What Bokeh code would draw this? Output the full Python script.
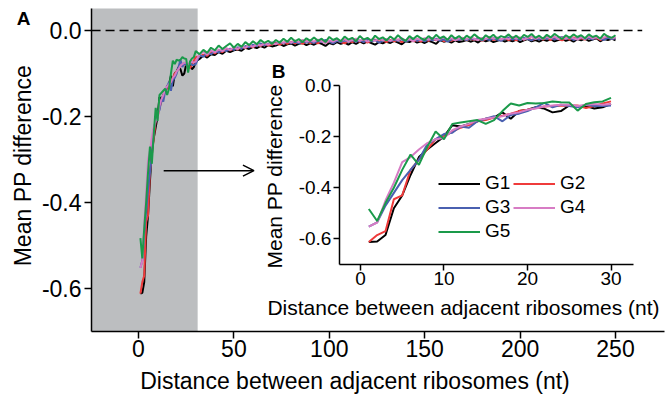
from math import pi
from bokeh.plotting import figure
from bokeh.models import (Range1d, LinearAxis, FixedTicker, NumeralTickFormatter,
                          BoxAnnotation, Arrow, OpenHead, Label, Legend, LegendItem)
from bokeh.embed import file_html
from bokeh.resources import INLINE

FONT = "Liberation Sans"
W, H = 666, 394

# ---------------- data ----------------
series_names = ["G1", "G2", "G3", "G4", "G5"]
series_colors = ["#000000", "#ef3b3b", "#4a60b0", "#d77cc4", "#1a9a4a"]

# distances 1..30 nt (shown in inset B and in A)
head_x = list(range(1, 31))
g1_head = [-0.612, -0.610, -0.585, -0.480, -0.430, -0.350, -0.280, -0.250, -0.225, -0.200,
           -0.155, -0.160, -0.150, -0.140, -0.130, -0.125, -0.105, -0.130, -0.100, -0.095,
           -0.085, -0.090, -0.105, -0.100, -0.078, -0.080, -0.080, -0.090, -0.085, -0.072]
g2_head = [-0.612, -0.585, -0.570, -0.445, -0.430, -0.330, -0.290, -0.250, -0.210, -0.200,
           -0.180, -0.165, -0.155, -0.140, -0.135, -0.125, -0.118, -0.110, -0.100, -0.095,
           -0.088, -0.082, -0.080, -0.078, -0.080, -0.078, -0.088, -0.080, -0.070, -0.062]
g3_head = [-0.552, -0.535, -0.470, -0.420, -0.370, -0.330, -0.290, -0.230, -0.210, -0.190,
           -0.185, -0.160, -0.165, -0.140, -0.130, -0.120, -0.140, -0.115, -0.110, -0.100,
           -0.085, -0.068, -0.085, -0.075, -0.080, -0.085, -0.075, -0.080, -0.080, -0.078]
g4_head = [-0.552, -0.536, -0.450, -0.380, -0.300, -0.280, -0.250, -0.225, -0.210, -0.205,
           -0.175, -0.160, -0.150, -0.135, -0.130, -0.125, -0.120, -0.110, -0.105, -0.095,
           -0.090, -0.082, -0.078, -0.075, -0.075, -0.080, -0.075, -0.072, -0.075, -0.072]
g5_head = [-0.483, -0.530, -0.460, -0.400, -0.330, -0.270, -0.310, -0.240, -0.180, -0.210,
           -0.150, -0.145, -0.140, -0.135, -0.150, -0.135, -0.100, -0.070, -0.078, -0.068,
           -0.070, -0.068, -0.062, -0.065, -0.066, -0.098, -0.072, -0.065, -0.062, -0.048]

# distances 32..250 nt (every 2 nt) shown in A only
tail_x = list(range(32, 251, 2))
g1_tail = [-0.066, -0.058, -0.063, -0.055, -0.057, -0.050, -0.054, -0.047, -0.050, -0.046,
           -0.044, -0.047, -0.040, -0.043, -0.038, -0.041, -0.036, -0.040, -0.034, -0.037,
           -0.035, -0.031, -0.036, -0.032, -0.030, -0.035, -0.031, -0.029, -0.034, -0.030,
           -0.033, -0.028, -0.031, -0.036, -0.029, -0.032, -0.027, -0.031, -0.028, -0.033,
           -0.027, -0.031, -0.026, -0.030, -0.025, -0.029, -0.033, -0.027, -0.030, -0.026,
           -0.029, -0.024, -0.028, -0.032, -0.025, -0.027, -0.023, -0.028, -0.025, -0.029,
           -0.024, -0.027, -0.031, -0.022, -0.026, -0.024, -0.028, -0.023, -0.027, -0.025,
           -0.022, -0.026, -0.023, -0.028, -0.021, -0.025, -0.022, -0.027, -0.024, -0.021,
           -0.026, -0.022, -0.025, -0.021, -0.027, -0.023, -0.020, -0.025, -0.022, -0.026,
           -0.021, -0.024, -0.020, -0.025, -0.022, -0.019, -0.024, -0.021, -0.026, -0.020,
           -0.023, -0.019, -0.024, -0.021, -0.018, -0.025, -0.020, -0.022, -0.019, -0.023]
g2_tail = [-0.060, -0.056, -0.059, -0.050, -0.053, -0.047, -0.050, -0.044, -0.046, -0.042,
           -0.044, -0.038, -0.041, -0.035, -0.039, -0.033, -0.036, -0.031, -0.035, -0.032,
           -0.029, -0.033, -0.028, -0.031, -0.026, -0.030, -0.027, -0.031, -0.025, -0.029,
           -0.026, -0.030, -0.024, -0.028, -0.025, -0.029, -0.023, -0.027, -0.030, -0.024,
           -0.027, -0.023, -0.026, -0.022, -0.028, -0.024, -0.021, -0.026, -0.023, -0.027,
           -0.022, -0.025, -0.021, -0.027, -0.023, -0.020, -0.025, -0.022, -0.026, -0.021,
           -0.024, -0.020, -0.023, -0.019, -0.025, -0.021, -0.024, -0.020, -0.022, -0.019,
           -0.023, -0.019, -0.022, -0.018, -0.024, -0.020, -0.017, -0.022, -0.019, -0.023,
           -0.018, -0.022, -0.019, -0.023, -0.017, -0.021, -0.018, -0.022, -0.020, -0.017,
           -0.021, -0.018, -0.022, -0.017, -0.020, -0.023, -0.018, -0.021, -0.016, -0.020,
           -0.018, -0.021, -0.016, -0.020, -0.017, -0.022, -0.018, -0.015, -0.020, -0.017]
g3_tail = [-0.057, -0.061, -0.052, -0.055, -0.048, -0.051, -0.045, -0.048, -0.042, -0.045,
           -0.039, -0.042, -0.036, -0.039, -0.033, -0.036, -0.030, -0.034, -0.031, -0.028,
           -0.031, -0.027, -0.030, -0.025, -0.029, -0.026, -0.030, -0.024, -0.028, -0.025,
           -0.029, -0.024, -0.027, -0.022, -0.026, -0.030, -0.024, -0.027, -0.023, -0.026,
           -0.022, -0.026, -0.023, -0.027, -0.021, -0.025, -0.022, -0.028, -0.024, -0.021,
           -0.025, -0.021, -0.024, -0.020, -0.026, -0.022, -0.019, -0.024, -0.021, -0.025,
           -0.020, -0.023, -0.019, -0.024, -0.020, -0.026, -0.021, -0.018, -0.022, -0.019,
           -0.022, -0.018, -0.021, -0.017, -0.023, -0.019, -0.022, -0.018, -0.021, -0.024,
           -0.019, -0.016, -0.021, -0.018, -0.022, -0.017, -0.020, -0.023, -0.018, -0.021,
           -0.017, -0.020, -0.016, -0.021, -0.018, -0.015, -0.020, -0.017, -0.022, -0.018,
           -0.016, -0.020, -0.017, -0.021, -0.015, -0.019, -0.022, -0.017, -0.020, -0.018]
g4_tail = [-0.055, -0.050, -0.056, -0.046, -0.051, -0.044, -0.048, -0.041, -0.045, -0.039,
           -0.043, -0.037, -0.040, -0.034, -0.038, -0.032, -0.035, -0.030, -0.033, -0.029,
           -0.032, -0.026, -0.029, -0.024, -0.028, -0.023, -0.027, -0.022, -0.026, -0.023,
           -0.026, -0.021, -0.025, -0.029, -0.023, -0.026, -0.021, -0.024, -0.020, -0.025,
           -0.022, -0.019, -0.024, -0.020, -0.026, -0.021, -0.024, -0.019, -0.023, -0.020,
           -0.024, -0.019, -0.022, -0.018, -0.023, -0.020, -0.025, -0.019, -0.022, -0.018,
           -0.021, -0.017, -0.022, -0.019, -0.016, -0.021, -0.018, -0.023, -0.019, -0.017,
           -0.020, -0.016, -0.019, -0.022, -0.017, -0.020, -0.015, -0.019, -0.016, -0.021,
           -0.017, -0.020, -0.015, -0.019, -0.016, -0.021, -0.017, -0.014, -0.019, -0.016,
           -0.019, -0.015, -0.018, -0.014, -0.020, -0.016, -0.019, -0.015, -0.018, -0.021,
           -0.016, -0.019, -0.014, -0.018, -0.015, -0.020, -0.016, -0.013, -0.018, -0.016]
g5_tail = [-0.055, -0.045, -0.052, -0.040, -0.046, -0.035, -0.043, -0.036, -0.030, -0.040,
           -0.031, -0.038, -0.027, -0.034, -0.025, -0.032, -0.022, -0.029, -0.024, -0.031,
           -0.022, -0.028, -0.019, -0.026, -0.017, -0.025, -0.020, -0.027, -0.018, -0.024,
           -0.016, -0.024, -0.019, -0.027, -0.015, -0.022, -0.018, -0.025, -0.014, -0.021,
           -0.017, -0.025, -0.013, -0.021, -0.017, -0.024, -0.012, -0.020, -0.016, -0.023,
           -0.014, -0.021, -0.011, -0.019, -0.024, -0.013, -0.020, -0.012, -0.018, -0.022,
           -0.013, -0.020, -0.010, -0.018, -0.014, -0.022, -0.011, -0.019, -0.013, -0.021,
           -0.012, -0.018, -0.009, -0.016, -0.021, -0.011, -0.017, -0.010, -0.019, -0.013,
           -0.016, -0.009, -0.018, -0.012, -0.020, -0.010, -0.015, -0.008, -0.017, -0.012,
           -0.019, -0.010, -0.016, -0.008, -0.014, -0.020, -0.011, -0.017, -0.009, -0.015,
           -0.011, -0.018, -0.009, -0.015, -0.012, -0.019, -0.008, -0.014, -0.017, -0.011]

heads = [g1_head, g2_head, g3_head, g4_head, g5_head]
tails = [g1_tail, g2_tail, g3_tail, g4_tail, g5_tail]

main_xticks = [0, 50, 100, 150, 200, 250]
main_yticks = [-0.6, -0.4, -0.2, 0.0]
inset_xticks = [0, 10, 20, 30]
inset_yticks = [-0.6, -0.4, -0.2, 0.0]
shade_end = 31          # grey region covers distances up to ~30 nt
zero_line_x = [-24.6, 264]

# axis extents of panel A and inset B
main_xb = (-24.6, 275.7)
main_yb = (-0.70, 0.051)
inset_xr = (-2.52, 32.64)
inset_yr = (-0.70, 0.0)
# whole canvas expressed in A's data units (axes drawn inside the frame)
canvas_xr = (-72.33, 276.73)
canvas_yr = (-0.8465, 0.0698)
# placement of inset box inside panel A (in A's data units)
inset_box_x = (105.3, 259.2)
inset_box_y = (-0.544, -0.128)


def extend(inner, box, outer):
    k = (inner[1] - inner[0]) / (box[1] - box[0])
    return (inner[0] + (outer[0] - box[0]) * k, inner[0] + (outer[1] - box[0]) * k)


ix = extend(inset_xr, inset_box_x, canvas_xr)
iy = extend(inset_yr, inset_box_y, canvas_yr)

p = figure(width=W, height=H, x_range=Range1d(*canvas_xr), y_range=Range1d(*canvas_yr),
           output_backend="svg", toolbar_location=None,
           x_axis_location=None, y_axis_location=None,
           min_border=0, min_border_left=0, min_border_right=0,
           min_border_top=0, min_border_bottom=0)
p.extra_x_ranges = {"ix": Range1d(*ix)}
p.extra_y_ranges = {"iy": Range1d(*iy)}
p.outline_line_color = None
p.grid.visible = False
p.background_fill_color = "white"
p.border_fill_color = "white"

# grey region and zero line
p.add_layout(BoxAnnotation(left=main_xb[0], right=shade_end, bottom=main_yb[0], top=main_yb[1],
                           fill_color="#bcbec0", fill_alpha=1.0,
                           line_color=None, level="underlay"))
p.line(zero_line_x, [0, 0], line_color="black", line_width=1.5, line_dash="9 5")

# main curves
for h, t, c in zip(heads, tails, series_colors):
    p.line(head_x + tail_x, h + t, line_color=c, line_width=2)

# arrow
p.add_layout(Arrow(end=OpenHead(size=11, line_width=1.5, line_color="black"),
                   x_start=13.2, y_start=-0.326, x_end=60.5, y_end=-0.326,
                   line_width=1.5, line_color="black"))

# inset curves
inset_renderers = []
for h, c in zip(heads, series_colors):
    r = p.line(head_x, h, line_color=c, line_width=2, x_range_name="ix", y_range_name="iy")
    inset_renderers.append(r)


def style(ax, size):
    ax.axis_line_width = 1.5
    ax.axis_line_color = "black"
    ax.major_tick_line_width = 1.5
    ax.major_tick_line_color = "black"
    ax.major_tick_in = 0
    ax.minor_tick_line_color = None
    ax.major_label_text_font = FONT
    ax.major_label_text_font_size = size
    ax.major_label_text_color = "black"


# main axes (inside the frame at A's edges)
max_x = LinearAxis(fixed_location=main_yb[0], bounds=main_xb, ticker=FixedTicker(ticks=main_xticks))
may_y = LinearAxis(fixed_location=main_xb[0], bounds=main_yb, ticker=FixedTicker(ticks=main_yticks),
                   formatter=NumeralTickFormatter(format="0.0"))
style(max_x, "23px")
style(may_y, "23px")
max_x.major_tick_out = 7
may_y.major_tick_out = 7
max_x.major_label_standoff = 1
may_y.major_label_standoff = 3
p.add_layout(max_x, "below")
p.add_layout(may_y, "left")

# inset axes
iax_x = LinearAxis(x_range_name="ix", y_range_name="iy", fixed_location=inset_yr[0],
                   bounds=inset_xr, ticker=FixedTicker(ticks=inset_xticks))
iax_y = LinearAxis(x_range_name="ix", y_range_name="iy", fixed_location=inset_xr[0],
                   bounds=inset_yr, ticker=FixedTicker(ticks=inset_yticks),
                   formatter=NumeralTickFormatter(format="0.0"))
for ax in (iax_x, iax_y):
    style(ax, "19px")
    ax.major_tick_out = 6
    ax.major_label_standoff = 2
p.add_layout(iax_x, "below")
p.add_layout(iax_y, "left")

# legend
legend = Legend(items=[LegendItem(label=n, renderers=[r]) for n, r in zip(series_names, inset_renderers)],
                ncols=2, location=(438, 152), orientation="horizontal")
legend.label_text_font = FONT
legend.label_text_font_size = "19px"
legend.label_text_color = "black"
legend.glyph_width = 42
legend.glyph_height = 21
legend.label_width = 26
legend.label_height = 21
legend.label_standoff = 5
legend.spacing = 2
legend.padding = 0
legend.margin = 0
legend.border_line_color = None
legend.background_fill_alpha = 0
p.add_layout(legend)


# texts (positions in canvas pixels from the top-left)
def lab(text, x, y, size, angle=0, bold=False):
    p.add_layout(Label(x=x, y=H - y, x_units="screen", y_units="screen", text=text,
                       text_font=FONT, text_font_size=size, angle=angle, text_color="black",
                       text_align="center", text_baseline="middle",
                       text_font_style="bold" if bold else "normal"))


lab("Distance between adjacent ribosomes (nt)", 354.5, 380, "23px")
lab("Mean PP difference", 22, 165, "23px", angle=pi / 2)
lab("Distance between adjacent ribosomes (nt)", 463, 307, "21px")
lab("Mean PP difference", 274, 176, "21px", angle=pi / 2)
lab("A", 23, 18, "19px", bold=True)
lab("B", 278, 71, "19px", bold=True)

open("out.html", "w").write(file_html(p, INLINE))
